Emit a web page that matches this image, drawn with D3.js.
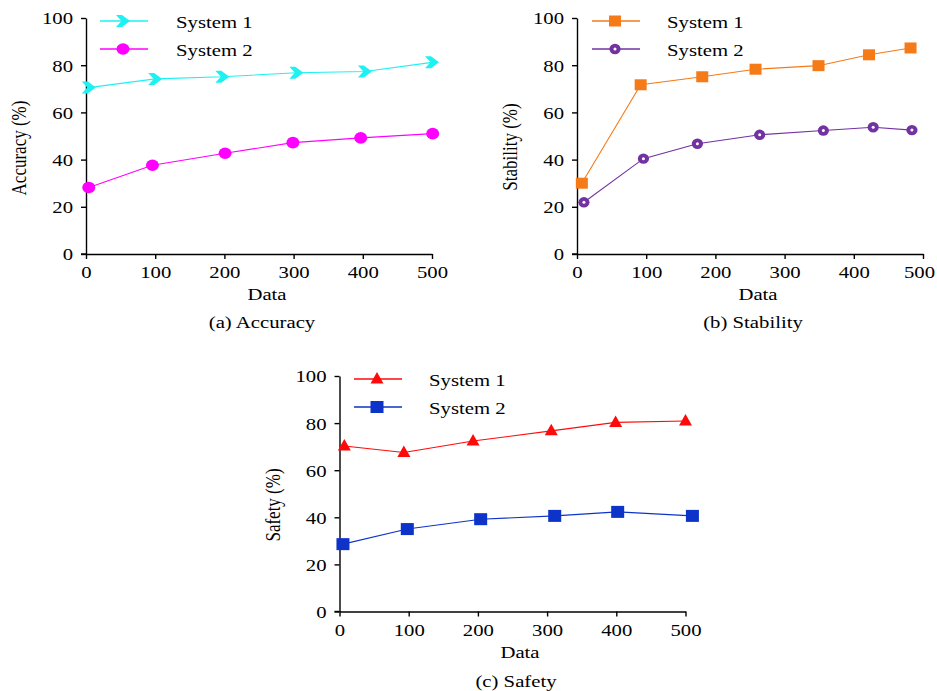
<!DOCTYPE html>
<html>
<head>
<meta charset="utf-8">
<script src="https://cdn.jsdelivr.net/npm/d3@7"></script>
<style>
  body { margin: 0; background: #fff; }
  svg { display: block; }
  svg text { font-family: 'Liberation Serif', 'Tinos', 'DejaVu Serif', serif !important; font-size: 17px; fill: #000; }
</style>
</head>
<body>
<svg id="chart"></svg>
<script>
// ---- data ----
let xTicks = [0, 100, 200, 300, 400, 500]
let yTicks = [0, 20, 40, 60, 80, 100]
let seriesNames = ['System 1', 'System 2']

let accX1 = [4, 100, 197, 304, 403, 500]
let accY1 = [70.5, 74.2, 75.1, 76.8, 77.3, 81.2]
let accX2 = [4, 96, 201, 299, 397, 501]
let accY2 = [28.2, 37.6, 42.7, 47.2, 49.2, 51.0]

let stabX1 = [7, 92, 181, 258, 349, 422, 482]
let stabY1 = [30.0, 71.7, 75.1, 78.3, 79.8, 84.4, 87.3]
let stabX2 = [10, 96, 174, 264, 356, 428, 484]
let stabY2 = [21.9, 40.4, 46.7, 50.5, 52.3, 53.7, 52.5]

let safX1 = [7, 93, 193, 306, 399, 500]
let safY1 = [70.3, 67.5, 72.4, 76.7, 80.3, 80.9]
let safX2 = [5, 98, 204, 311, 402, 510]
let safY2 = [28.6, 35.0, 39.2, 40.6, 42.3, 40.6]

let width = 937
let height = 691
let SX = 1.22   // the source picture is stretched sideways
let FONT = "'Liberation Serif', 'Tinos', 'DejaVu Serif', serif"

let svg = d3.select('#chart').attr('width', width).attr('height', height)
            .attr('font-family', FONT)

let zip = (xs, ys) => xs.map((x, i) => [x, ys[i]])

let panels = [
  { x0: 86, x1: 432, yb: 254, yt: 18,
    series: [
      { pts: zip(accX1, accY1), color: '#1CF2F2', marker: 'arrow' },
      { pts: zip(accX2, accY2), color: '#FF00FF', marker: 'circle' }],
    ytitle: 'Accuracy (%)', ytx: 26, yty: 148,
    dataX: 267, dataY: 300, caption: '(a) Accuracy', capX: 262, capY: 328,
    legX: 100, legY: [21, 49], legTX: 176 },
  { x0: 577, x1: 923, yb: 254, yt: 18,
    series: [
      { pts: zip(stabX1, stabY1), color: '#F57A18', marker: 'square' },
      { pts: zip(stabX2, stabY2), color: '#7232A2', marker: 'ring' }],
    ytitle: 'Stability (%)', ytx: 517, yty: 147,
    dataX: 758, dataY: 300, caption: '(b) Stability', capX: 753, capY: 328,
    legX: 592, legY: [21, 49], legTX: 667 },
  { x0: 339.5, x1: 685.5, yb: 611.5, yt: 376,
    series: [
      { pts: zip(safX1, safY1), color: '#FF0A0A', marker: 'triangle' },
      { pts: zip(safX2, safY2), color: '#0D33C8', marker: 'bsquare' }],
    ytitle: 'Safety (%)', ytx: 280, yty: 505,
    dataX: 520, dataY: 658, caption: '(c) Safety', capX: 516, capY: 687,
    legX: 354, legY: [379, 407], legTX: 429 }
]

let drawMarker = (g, type, color, x, y) => {
  if (type === 'arrow') {
    g.append('path')
     .attr('d', 'M-7,-6 L-1,-6 L7,0 L-1,6 L-7,6 L-1.5,0 Z')
     .attr('transform', 'translate(' + x + ',' + y + ')')
     .attr('fill', color)
  } else if (type === 'circle') {
    g.append('ellipse').attr('cx', x).attr('cy', y).attr('rx', 6.5).attr('ry', 5.8).attr('fill', color)
  } else if (type === 'square') {
    g.append('rect').attr('x', x - 6).attr('y', y - 5.5).attr('width', 12).attr('height', 11).attr('fill', color)
  } else if (type === 'bsquare') {
    g.append('rect').attr('x', x - 6.5).attr('y', y - 6).attr('width', 13).attr('height', 12).attr('fill', color)
  } else if (type === 'ring') {
    g.append('ellipse').attr('cx', x).attr('cy', y).attr('rx', 5.6).attr('ry', 5.2).attr('fill', color)
    g.append('circle').attr('cx', x).attr('cy', y).attr('r', 1.5).attr('fill', '#fff')
  } else if (type === 'triangle') {
    g.append('path')
     .attr('d', 'M0,-7 L6.5,4.5 L-6.5,4.5 Z')
     .attr('transform', 'translate(' + x + ',' + y + ')')
     .attr('fill', color)
  }
}

let stretchText = (sel, x, y, extra) => {
  sel.attr('x', 0).attr('y', 0)
     .attr('font-family', FONT).attr('font-size', 17)
     .attr('transform', 'translate(' + x + ',' + y + ') scale(' + SX + ',1)' + (extra || ''))
}

let makePanel = (p) => {
  let g = svg.append('g')

  let xScale = d3.scaleLinear().domain([0, 500]).range([p.x0, p.x1])
  let yScale = d3.scaleLinear().domain([0, 100]).range([p.yb, p.yt])

  let xAxis = d3.axisBottom(xScale).tickValues(xTicks).tickSize(5).tickSizeOuter(0)
  let yAxis = d3.axisLeft(yScale).tickValues(yTicks).tickSize(5).tickSizeOuter(0)

  let gx = g.append('g')
            .attr('transform', 'translate(0,' + p.yb + ')')
            .call(xAxis)
  let gy = g.append('g')
            .attr('transform', 'translate(' + p.x0 + ',0)')
            .call(yAxis)

  ;[gx, gy].forEach(a => {
    a.attr('font-family', FONT).attr('font-size', 17)
    a.select('.domain').attr('stroke', '#000').attr('stroke-width', 1.4)
    a.selectAll('.tick line').attr('stroke', '#000').attr('stroke-width', 1.4)
    a.selectAll('.tick text').attr('fill', '#000')
  })
  // x axis line reaches a little to the left of the y axis
  g.append('line').attr('x1', p.x0 - 5).attr('x2', p.x0)
   .attr('y1', p.yb).attr('y2', p.yb).attr('stroke', '#000').attr('stroke-width', 1.4)

  gx.selectAll('.tick text').each(function () {
    let t = d3.select(this).attr('dy', null)
    stretchText(t, 0, 24)
    // keep the last label inside the page, as the reference does
    let r = this.getBoundingClientRect()
    if (r.right > width - 1) stretchText(t, -(r.right - width + 2), 24)
  })
  gy.selectAll('.tick text').each(function () {
    stretchText(d3.select(this).attr('dy', '0.35em'), -13, 0)
  })

  // lines and markers
  let line = d3.line().x(d => xScale(d[0])).y(d => yScale(d[1]))
  p.series.forEach(s => {
    g.append('path').datum(s.pts)
     .attr('d', line)
     .attr('fill', 'none')
     .attr('stroke', s.color)
     .attr('stroke-width', 1.1)
    s.pts.forEach(d => drawMarker(g, s.marker, s.color, xScale(d[0]), yScale(d[1])))
  })

  // legend
  p.series.forEach((s, i) => {
    let ly = p.legY[i]
    g.append('line').attr('x1', p.legX).attr('x2', p.legX + 48)
     .attr('y1', ly).attr('y2', ly)
     .attr('stroke', s.color).attr('stroke-width', 1.3)
    drawMarker(g, s.marker, s.color, p.legX + 23, ly)
    stretchText(g.append('text').text(seriesNames[i]), p.legTX, ly + 6.5)
  })

  // titles
  stretchText(g.append('text').attr('text-anchor', 'middle').text('Data'), p.dataX, p.dataY)
  stretchText(g.append('text').attr('text-anchor', 'middle').text(p.caption), p.capX, p.capY)
  stretchText(g.append('text').attr('text-anchor', 'middle').text(p.ytitle), p.ytx, p.yty, ' rotate(-90)')
}

panels.forEach(makePanel)
</script>
</body>
</html>
